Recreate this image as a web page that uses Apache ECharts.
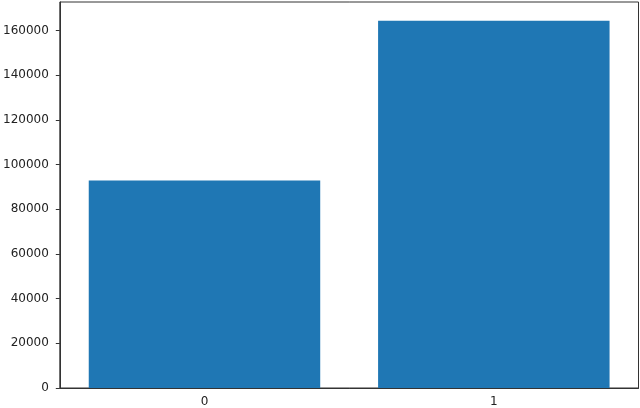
<!DOCTYPE html>
<html>
<head>
<meta charset="utf-8">
<script src="https://cdn.jsdelivr.net/npm/echarts@6/dist/echarts.min.js"></script>
<style>
  html, body { margin: 0; padding: 0; background: #fff; }
  #chart { width: 640px; height: 408px; }
</style>
</head>
<body>
<div id="chart"></div>
<script>
// data
const categories = ['0', '1'];
const values = [92900, 164500];
const yTicks = [0, 20000, 40000, 60000, 80000, 100000, 120000, 140000, 160000];

const chart = echarts.init(document.getElementById('chart'));
const font = { fontFamily: 'DejaVu Sans', fontSize: 12, color: '#222' };

chart.setOption({
  animation: false,
  grid: {
    left: 59.5, right: 1.5, top: 2, bottom: 19.5,
    show: true, borderColor: '#333', borderWidth: 1,
    containLabel: false
  },
  xAxis: {
    type: 'category',
    data: categories,
    boundaryGap: true,
    axisLine: { lineStyle: { color: '#333', width: 1 } },
    axisTick: { alignWithLabel: true, length: 4, lineStyle: { color: '#333' } },
    axisLabel: Object.assign({ margin: 8 }, font),
    splitLine: { show: false }
  },
  yAxis: {
    type: 'value',
    min: 0,
    max: 172840,
    interval: 20000,
    axisLine: { show: true, lineStyle: { color: '#333', width: 1 } },
    axisTick: { show: true, length: 4, customValues: yTicks, lineStyle: { color: '#333' } },
    axisLabel: Object.assign({ margin: 11, customValues: yTicks, formatter: v => String(v) }, font),
    splitLine: { show: false }
  },
  series: [{
    type: 'bar',
    data: values,
    barWidth: '80%',
    itemStyle: { color: '#1f77b4' }
  }]
});
</script>
</body>
</html>
